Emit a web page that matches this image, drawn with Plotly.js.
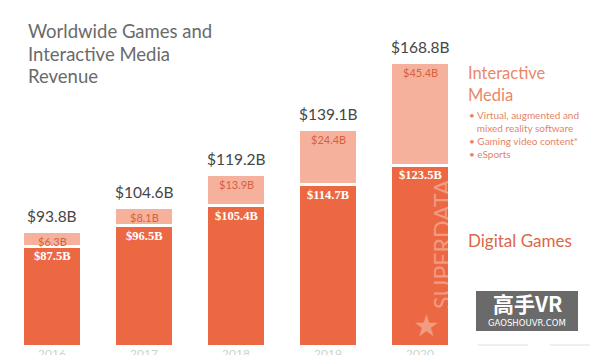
<!DOCTYPE html>
<html><head><meta charset="utf-8">
<script src="https://cdn.plot.ly/plotly-3.0.1.min.js"></script>
<style>html,body{margin:0;padding:0;background:#fff}</style>
</head><body><div id="chart" style="width:600px;height:355px"></div><div id="err" style="position:absolute;top:0;left:0;font-size:10px;color:red"></div>
<script>
window.onerror = function(m){ document.getElementById('err').textContent += m + ' | '; };
const years = ['2016','2017','2018','2019','2020'];
const digitalGames = [87.5, 96.5, 105.4, 114.7, 123.5];
const interactiveMedia = [6.3, 8.1, 13.9, 24.4, 45.4];
const totals = [93.8, 104.6, 119.2, 139.1, 168.8];
const digitalLabels = ['$87.5B','$96.5B','$105.4B','$114.7B','$123.5B'];
const mediaLabels = ['$6.3B','$8.1B','$13.9B','$24.4B','$45.4B'];
const totalLabels = ['$93.8B','$104.6B','$119.2B','$139.1B','$168.8B'];
const titleLines = ['Worldwide Games and','Interactive Media','Revenue'];
const mediaHeading = ['Interactive','Media'];
const mediaBullets = ['• Virtual, augmented and','&nbsp;&nbsp;&nbsp;mixed reality software','• Gaming video content*','• eSports'];

const DARK = '#EC6843', LIGHT = '#F5B19C';
const W = 600, H = 355, ML = 6, MR = 134, MT = 20, MB = 10;
const PW = W - ML - MR, PH = H - MT - MB;
const px = x => (x - ML) / PW;
const py = y => (H - MB - y) / PH;
const Y0 = 43.5, SCALE = 2.25;
const FONT = 'Lato, "Open Sans", sans-serif';

const traces = [
  {type:'bar', x: years, y: digitalGames, marker:{color: DARK, line:{color:'#fff', width:3}}},
  {type:'bar', x: years, y: interactiveMedia, marker:{color: LIGHT, line:{color:'#fff', width:3}}}
];

const ann = [];
years.forEach((yr, i) => {
  ann.push({x: i, y: totals[i], xref:'x', yref:'y', text: totalLabels[i], showarrow:false,
    yanchor:'bottom', yshift:5, font:{family:FONT, size:15.5, color:'#464646'}});
  ann.push({x: i, y: totals[i], xref:'x', yref:'y', text: mediaLabels[i], showarrow:false,
    yanchor:'top', yshift:-1, font:{family:FONT, size:11, color:'#D8603E'}});
  ann.push({x: i, y: digitalGames[i], xref:'x', yref:'y', text: '<b>'+digitalLabels[i]+'</b>', showarrow:false,
    yanchor:'top', yshift:-1, font:{family:'"Liberation Serif", serif', size:12.5, color:'#ffffff'}});
});
titleLines.forEach((t, i) => ann.push({xref:'paper', yref:'paper', x: px(26), y: py(31 + i*22.5), text: t,
  showarrow:false, xanchor:'left', yanchor:'middle', font:{family:FONT, size:18.5, color:'#6a6a6a'}}));
mediaHeading.forEach((t, i) => ann.push({xref:'paper', yref:'paper', x: px(466), y: py(73 + i*22), text: t,
  showarrow:false, xanchor:'left', yanchor:'middle', font:{family:FONT, size:16.5, color:'#E9886B'}}));
mediaBullets.forEach((t, i) => ann.push({xref:'paper', yref:'paper', x: px(467), y: py(115 + i*13), text: t,
  showarrow:false, xanchor:'left', yanchor:'middle', font:{family:FONT, size:10, color:'#E4846A'}}));
ann.push({xref:'paper', yref:'paper', x: px(466), y: py(240), text:'Digital Games',
  showarrow:false, xanchor:'left', yanchor:'middle', font:{family:FONT, size:17, color:'#DA6646'}});
ann.push({xref:'paper', yref:'paper', x: px(442), y: py(244), text:'SUPERDATA', textangle:-90,
  showarrow:false, xanchor:'center', yanchor:'middle', font:{family:FONT, size:23, color:'rgba(255,255,255,0.35)'}});
ann.push({xref:'paper', yref:'paper', x: px(426), y: py(325), text:'★',
  showarrow:false, xanchor:'center', yanchor:'middle', font:{family:'DejaVu Sans', size:30, color:'rgba(255,255,255,0.35)'}});
ann.push({xref:'paper', yref:'paper', x: px(527), y: py(303), text:'<b>高手VR</b>',
  showarrow:false, xanchor:'center', yanchor:'middle', font:{family:'"Noto Sans CJK SC"', size:21, color:'#ffffff'}});
ann.push({xref:'paper', yref:'paper', x: px(527), y: py(323), text:'GAOSHOUVR.COM',
  showarrow:false, xanchor:'center', yanchor:'middle', font:{family:'"DejaVu Sans"', size:8.5, color:'#ffffff'}});

const shapes = [
  {type:'rect', xref:'paper', yref:'paper', x0: px(476), x1: px(578), y0: py(291), y1: py(331),
   fillcolor:'rgba(80,80,80,0.85)', line:{width:0}, layer:'below'},
  {type:'line', xref:'paper', yref:'paper', x0: px(478), x1: px(528), y0: py(345), y1: py(345),
   line:{color:'rgba(200,200,200,0.6)', width:1}},
  {type:'line', xref:'paper', yref:'paper', x0: px(550), x1: px(590), y0: py(345), y1: py(345),
   line:{color:'rgba(200,200,200,0.6)', width:1}}
];

const layout = {
  width: W, height: H, margin:{l:ML, r:MR, t:MT, b:MB}, paper_bgcolor:'#fff', plot_bgcolor:'#fff',
  barmode:'stack', bargap:0.35, showlegend:false,
  xaxis:{type:'category', range:[-0.5, years.length - 0.5], showgrid:false, zeroline:false, showline:false, automargin:false,
    tickfont:{family:FONT, size:12, color:'#d0d0d0'}},
  yaxis:{range:[Y0, Y0 + PH/SCALE], showgrid:false, zeroline:false, showline:false, showticklabels:false, automargin:false},
  annotations: ann, shapes: shapes
};
Plotly.newPlot('chart', traces, layout, {displayModeBar:false, staticPlot:true})
  .catch(function(e){ document.getElementById('err').textContent += 'ERR ' + e; });
</script></body></html>
